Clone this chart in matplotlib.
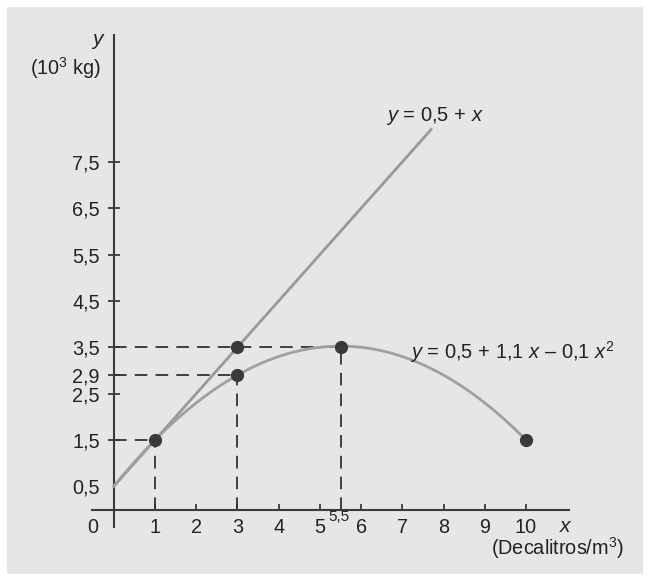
import matplotlib
matplotlib.use("Agg")
import matplotlib.pyplot as plt
from matplotlib.patches import Rectangle
import numpy as np

plt.rcParams['font.family'] = ['Liberation Sans', 'DejaVu Sans']
plt.rcParams['mathtext.fontset'] = 'custom'
plt.rcParams['mathtext.rm'] = 'Liberation Sans'
plt.rcParams['mathtext.it'] = 'Liberation Sans:italic'
plt.rcParams['mathtext.bf'] = 'Liberation Sans:bold'

# ---- data ----
x_ticks = [1, 2, 3, 4, 5, 6, 7, 8, 9, 10]
x_tick_labels = ['1', '2', '3', '4', '5', '6', '7', '8', '9', '10']
y_ticks = [0.5, 1.5, 2.5, 2.9, 3.5, 4.5, 5.5, 6.5, 7.5]
y_tick_labels = ['0,5', '1,5', '2,5', '2,9', '3,5', '4,5', '5,5', '6,5', '7,5']

line_intercept = 0.5
line_slope = 1.0
line_x_range = [0, 7.72]

curve_coef = [0.5, 1.1, -0.1]     # y = 0.5 + 1.1 x - 0.1 x^2
curve_x_range = [0, 10]

points_x = [1, 3, 3, 5.5, 10]
points_y = [1.5, 3.5, 2.9, 3.5, 1.5]

guide_h = [(3.5, 5.5), (2.9, 3), (1.5, 1)]   # (y, x end)
guide_v = [(1, 1.5), (3, 2.9), (5.5, 3.5)]   # (x, y top)

# ---- figure ----
fig = plt.figure(figsize=(6.5, 5.81), dpi=100)
fig.patch.set_facecolor('white')
fig.patches.append(Rectangle((7 / 650, 7 / 581), 636 / 650, 567 / 581,
                             transform=fig.transFigure, facecolor='#e6e6e6',
                             edgecolor='none', zorder=-10))
ax = fig.add_axes([0, 0, 1, 1])
ax.set_facecolor('none')

sx, x0 = 41.22, 113.8
sy, y0 = 46.35, 509.5
ax.set_xlim(-x0 / sx, (650 - x0) / sx)
ax.set_ylim(-(581 - y0) / sy, y0 / sy)

axis_col = '#3a3a3a'
for s in ['top', 'right']:
    ax.spines[s].set_visible(False)
ax.spines['left'].set_position(('data', 0))
ax.spines['bottom'].set_position(('data', 0))
ax.spines['left'].set_bounds(-0.38, 10.23)
ax.spines['bottom'].set_bounds(-0.53, 11.04)
for s in ['left', 'bottom']:
    ax.spines[s].set_color(axis_col)
    ax.spines[s].set_linewidth(1.5)

fs = 14.3
ax.set_xticks(x_ticks)
ax.set_xticklabels(x_tick_labels, fontsize=fs, color='#222222')
ax.set_yticks(y_ticks)
ax.set_yticklabels(y_tick_labels, fontsize=fs, color='#222222')
ax.tick_params(axis='x', direction='in', length=4.5, width=1.3, color=axis_col, pad=6)
ax.tick_params(axis='y', direction='inout', length=8, width=1.3, color=axis_col, pad=6)
ax.yaxis.get_major_ticks()[0].tick1line.set_visible(False)

# guides
dash = dict(color='#333333', lw=1.3, dashes=(7, 4.5), zorder=2)
for yv, xe in guide_h:
    ax.plot([0, xe], [yv, yv], **dash)
for xv, yt in guide_v:
    ax.plot([xv, xv], [0, yt], **dash)

# line and curve
lx = np.array(line_x_range)
ax.plot(lx, line_intercept + line_slope * lx, color='#999999', lw=2, zorder=3,
        solid_capstyle='butt')
cx = np.linspace(curve_x_range[0], curve_x_range[1], 300)
cy = curve_coef[0] + curve_coef[1] * cx + curve_coef[2] * cx ** 2
ax.plot(cx, cy, color='#a0a0a0', lw=2, zorder=3)

ax.plot(points_x, points_y, 'o', color='#3a3a3a', ms=8.5, zorder=5)

# texts
tc = '#222222'
ax.text(-0.383, 10.09, r'$y$', fontsize=15, ha='center', va='center', color=tc)
ax.text(-1.16, 9.52, '(10$^3$ kg)', fontsize=fs, ha='center', va='center', color=tc)
ax.text(-0.505, -0.38, '0', fontsize=fs, ha='center', va='center', color=tc)
ax.text(5.47, -0.17, '5,5', fontsize=11, ha='center', va='center', color=tc)
ax.text(10.97, -0.36, r'$x$', fontsize=15, ha='center', va='center', color=tc)
ax.text(10.76, -0.84, '(Decalitros/m$^3$)', fontsize=fs, ha='center', va='center', color=tc)
ax.text(7.80, 8.49, r'$y$ = 0,5 + $x$', fontsize=14.5, ha='center', va='center', color=tc)
ax.text(7.19, 3.40, r'$y$ = 0,5 + 1,1 $x$ – 0,1 $x^2$', fontsize=14.5, ha='left',
        va='center', color=tc)

fig.savefig('out.png', dpi=100)
